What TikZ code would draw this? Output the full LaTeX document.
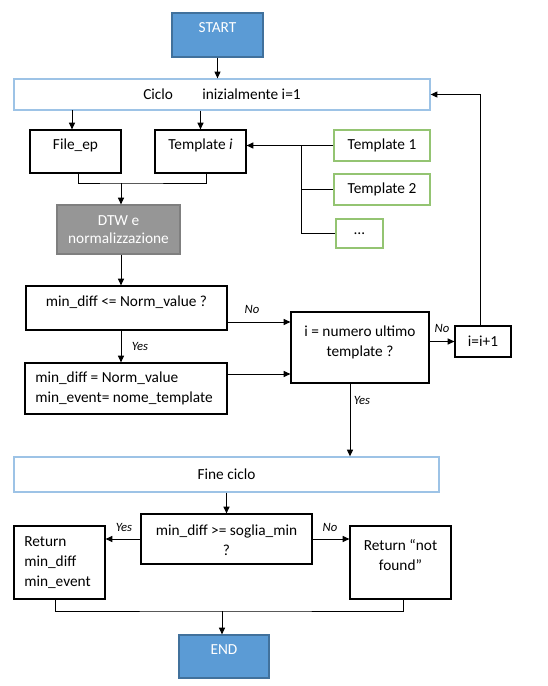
\documentclass[tikz,border=0pt]{standalone}
\usepackage{fontspec}
\setmainfont{Carlito}
\usetikzlibrary{arrows.meta,calc}
\definecolor{startblue}{HTML}{5B9BD5}
\definecolor{startedge}{HTML}{41719C}
\definecolor{cycleedge}{HTML}{9DC3E6}
\definecolor{tplgreen}{HTML}{94C472}
\definecolor{dtwfill}{HTML}{969696}
\definecolor{dtwedge}{HTML}{7F7F7F}
\newcommand\pxbox[7]{\node[#2, minimum width={(#5-#3)*0.75pt}, minimum height={(#6-#4)*0.75pt}] (#1) at ({(#3+#5)/2},{(#4+#6)/2}) {#7};}
\begin{document}
\begin{tikzpicture}[x=0.75pt,y=-0.75pt,
  every node/.style={font=\fontsize{11.5}{15}\selectfont, inner sep=0pt},
  bx/.style={draw=black, line width=0.9pt, fill=white},
  cyc/.style={draw=cycleedge, line width=1pt, fill=white},
  tpl/.style={draw=tplgreen, line width=1pt, fill=white},
  term/.style={draw=startedge, line width=0.9pt, fill=startblue},
  gry/.style={draw=dtwedge, line width=0.9pt, fill=dtwfill, text=white, align=center, font=\fontsize{11.5}{13.5}\selectfont},
  arr/.style={-{Triangle[length=5pt,width=4.5pt]}, line width=0.75pt},
  ln/.style={line width=0.75pt},
  lab/.style={font=\fontsize{9.5}{11}\selectfont\itshape},
]
\useasboundingbox (0,0) rectangle (548,686);

% boxes
\pxbox{start}{term}{172}{13}{263}{57}{}
\node[text=white] (startT) at (217.5,28) {START};
\pxbox{ciclo}{cyc}{14}{79}{430}{110}{Ciclo\hspace{22pt}inizialmente i=1}
\pxbox{fileep}{bx}{30}{130}{121}{173}{}
\node (fileepT) at (75.5,145) {File\_ep};
\pxbox{tmpi}{bx}{155}{130}{246}{173}{}
\node (tmpiT) at (200.5,145) {Template \textit{i}};
\pxbox{t1}{tpl}{334}{130}{430}{161}{Template 1}
\pxbox{t2}{tpl}{334}{174}{430}{205}{Template 2}
\pxbox{tdots}{tpl}{336}{219}{383}{248}{…}
\pxbox{dtw}{gry}{57}{205}{180}{254}{DTW e\\normalizzazione}
\pxbox{c1}{bx}{26}{286}{227}{330}{}
\node (c1T) at (126.5,302) {min\_diff <= Norm\_value ?};
\pxbox{assign}{bx}{25}{363}{227}{414}{}
\node[anchor=west, align=left] (assignT) at (35,388) {min\_diff = Norm\_value\\min\_event= nome\_template};
\pxbox{dec}{bx}{291}{312}{429}{383}{}
\node[align=center] (decT) at (360,342) {i = numero ultimo\\template ?};
\pxbox{inc}{bx}{455}{326}{511}{357}{i=i+1}
\pxbox{fine}{cyc}{14}{457}{439}{492}{Fine ciclo}
\pxbox{c2}{bx}{141}{514}{312}{564}{}
\node[align=center] (c2T) at (226.5,540) {min\_diff >= soglia\_min\\?};
\pxbox{ret}{bx}{14}{526}{105}{599}{}
\node[anchor=west, align=left] (retT) at (24,563) {Return\\min\_diff\\min\_event};
\pxbox{nf}{bx}{350}{526}{451}{599}{}
\node[align=center] (nfT) at (400.5,555.5) {Return “not\\found”};
\pxbox{end}{term}{179}{635}{269}{678}{}
\node[text=white] (endT) at (224,650) {END};

% connectors
\draw[arr] (start.south) -- (start.south |- ciclo.north);
\coordinate (cf) at (72,110);
\draw[arr] (cf) -- (cf |- fileep.north);
\draw[arr] (ciclo.south -| tmpi.north) -- (tmpi.north);
\draw[arr] (t1.west) -- (t1.west -| tmpi.east);
\coordinate (jt) at (301,145.5);
\draw[ln] (jt) |- (tdots.west);
\draw[ln] (jt |- t2.west) -- (t2.west);
\coordinate (m1) at (121,183);
\coordinate (fb) at (78,173);
\coordinate (tb) at (206,173);
\draw[ln] (fb) |- (m1) -| (tb);
\draw[arr] (m1) -- (m1 |- dtw.north);
\draw[arr] (dtw.south -| m1) -- (c1.north -| m1);
\coordinate (n1) at (227,322);
\draw[arr] (n1) -- (n1 -| dec.west);
\node[lab] (no1) at (252,309) {No};
\draw[arr] (c1.south -| m1) -- (assign.north -| m1);
\node[lab] (yes1) at (140,346) {Yes};
\coordinate (n2) at (227,374);
\draw[arr] (n2) -- (n2 -| dec.west);
\draw[arr] (dec.east |- inc.west) -- (inc.west);
\node[lab] (no2) at (442,328) {No};
\coordinate (ib) at (480,326);
\draw[arr] (ib) |- (ciclo.east);
\coordinate (dy) at (350,383);
\draw[arr] (dy) -- (dy |- fine.north);
\node[lab] (yes2) at (362,400) {Yes};
\draw[arr] (fine.south -| c2.north) -- (c2.north);
\draw[arr] (c2.west) -- (c2.west -| ret.east);
\node[lab] (yes3) at (124,527) {Yes};
\draw[arr] (c2.east) -- (c2.east -| nf.west);
\node[lab] (no3) at (330,527) {No};
\coordinate (m2) at (222,611);
\coordinate (rb) at (55,599);
\coordinate (nb) at (403,599);
\draw[ln] (rb) |- (m2) -| (nb);
\draw[arr] (m2) -- (m2 |- end.north);
\end{tikzpicture}
\end{document}
